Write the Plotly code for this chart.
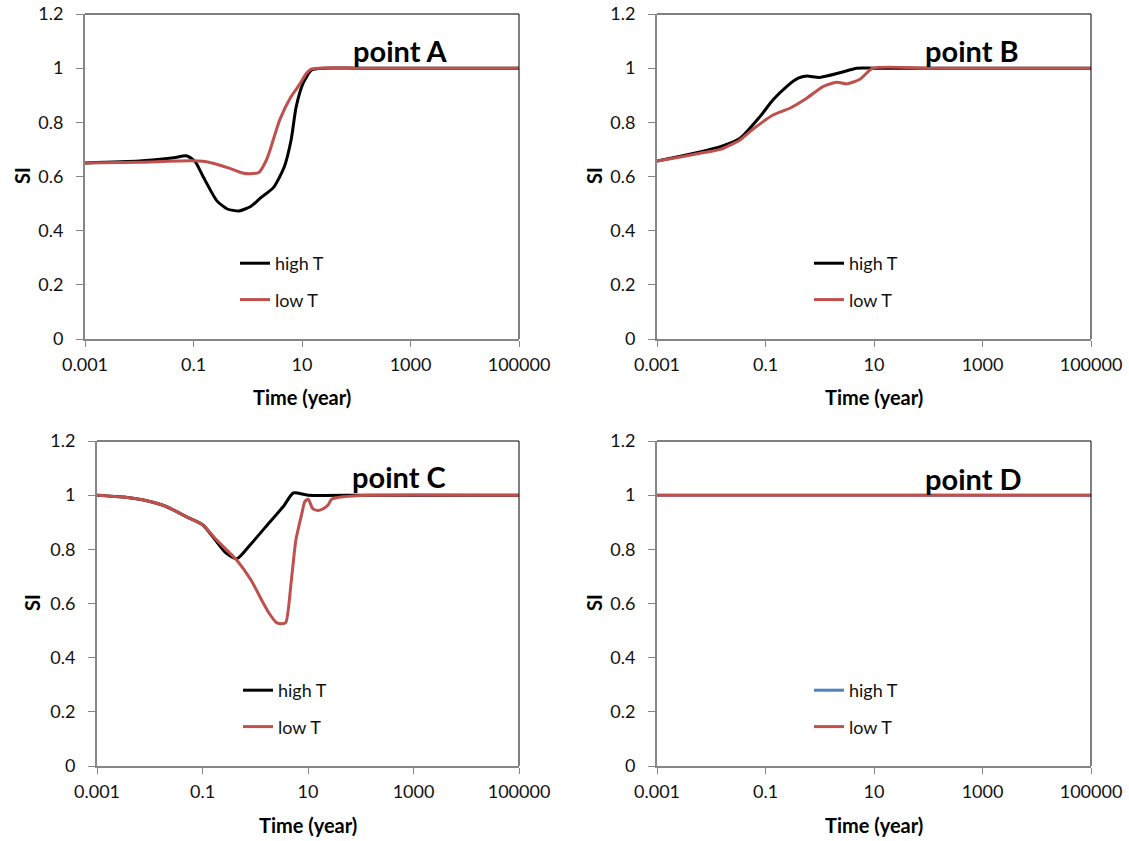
import plotly.graph_objects as go

W, H = 1129, 841
FONT = "Lato"
BLACK = "#000000"
RED = "#C0504D"
BLUE = "#4F81BD"

# ---------------- data (time in years, SI) ----------------
tick_vals = [0.001, 0.1, 10, 1000, 100000]
tick_text = ["0.001", "0.1", "10", "1000", "100000"]
series_names = ["high T", "low T"]
panel_titles = ["point A", "point B", "point C", "point D"]

a_high_t = [0.001, 0.01, 0.04, 0.076, 0.107, 0.15, 0.27, 0.42, 0.69, 1.15, 1.7, 3.0, 4.7, 6.3, 7.8, 10.5, 15, 25, 100, 1000, 100000]
a_high = [0.65, 0.657, 0.668, 0.676, 0.655, 0.60, 0.51, 0.48, 0.473, 0.49, 0.52, 0.56, 0.635, 0.735, 0.857, 0.945, 0.993, 1.0, 1.0, 1.0, 1.0]
a_low_t = [0.001, 0.01, 0.1, 0.2, 0.47, 0.8, 1.1, 1.6, 2.2, 2.6, 3.9, 6.3, 9.0, 12.0, 15.0, 20.0, 100, 1000, 100000]
a_low = [0.65, 0.653, 0.658, 0.652, 0.63, 0.613, 0.61, 0.615, 0.66, 0.70, 0.81, 0.895, 0.94, 0.98, 0.997, 1.0, 1.0, 1.0, 1.0]

b_high_t = [0.001, 0.0027, 0.0059, 0.0148, 0.034, 0.079, 0.138, 0.245, 0.40, 0.575, 1.0, 2.34, 4.8, 10, 100, 1000, 100000]
b_high = [0.657, 0.675, 0.69, 0.71, 0.741, 0.821, 0.883, 0.932, 0.963, 0.971, 0.966, 0.983, 1.0, 1.0, 1.0, 1.0, 1.0]
b_low_t = [0.001, 0.0027, 0.0059, 0.0148, 0.034, 0.051, 0.138, 0.28, 0.575, 1.15, 2.04, 3.16, 5.5, 9.5, 100, 1000, 100000]
b_low = [0.657, 0.672, 0.685, 0.70, 0.735, 0.765, 0.827, 0.852, 0.889, 0.932, 0.948, 0.942, 0.959, 1.0, 1.0, 1.0, 1.0]

c_high_t = [0.001, 0.0032, 0.0076, 0.0195, 0.05, 0.102, 0.174, 0.28, 0.447, 0.83, 1.82, 3.47, 5.25, 10, 100, 1000, 100000]
c_high = [1.0, 0.993, 0.982, 0.96, 0.92, 0.89, 0.835, 0.786, 0.765, 0.82, 0.897, 0.96, 1.008, 1.0, 1.0, 1.0, 1.0]
c_low_t = [0.001, 0.0032, 0.0076, 0.0195, 0.05, 0.102, 0.174, 0.447, 0.83, 1.32, 1.82, 2.51, 3.16, 3.8, 4.8, 5.9, 7.6, 8.7, 10.1, 12.3, 15.5, 19, 24, 28, 46, 150, 100000]
c_low = [1.0, 0.993, 0.982, 0.96, 0.92, 0.89, 0.84, 0.76, 0.687, 0.613, 0.565, 0.53, 0.525, 0.53, 0.68, 0.835, 0.93, 0.976, 0.985, 0.95, 0.943, 0.949, 0.964, 0.985, 0.994, 1.0, 1.0]

d_high_t = [0.001, 100000]
d_high = [1.0, 1.0]
d_low_t = [0.001, 100000]
d_low = [1.0, 1.0]

panels = [
    (a_high_t, a_high, a_low_t, a_low, BLACK),
    (b_high_t, b_high, b_low_t, b_low, BLACK),
    (c_high_t, c_high, c_low_t, c_low, BLACK),
    (d_high_t, d_high, d_low_t, d_low, BLUE),
]

# ---------------- layout geometry (window pixels) ----------------
# plot area: left, right, top, bottom
boxes = [(85, 519, 14, 339), (657, 1091, 14, 339), (97, 519, 441, 766), (657, 1091, 441, 766)]
legend_pos = [(235, 245), (809, 245), (238, 672), (809, 672)]
title_pos = [(400, 51), (972, 51), (399, 477), (973, 478)]
xlab_pos = [(302, 397), (874, 397), (308, 825), (874, 825)]
ylab_pos = [(22, 176), (594, 176), (32, 603), (594, 603)]


def px(x):
    return x / W


def py(y):
    return 1 - y / H


fig = go.Figure()
layout = dict(
    width=W, height=H,
    margin=dict(l=0, r=0, t=0, b=0, autoexpand=False),
    paper_bgcolor="white", plot_bgcolor="white",
    font=dict(family=FONT, size=18, color="#000000"),
    showlegend=True,
)
annotations = []
shapes = []

for i, (ht, hv, lt, lv, hcol) in enumerate(panels):
    n = "" if i == 0 else str(i + 1)
    xa, ya = "x" + n, "y" + n
    leg = "legend" + n
    fig.add_trace(go.Scatter(x=ht, y=hv, mode="lines", name=series_names[0],
                             line=dict(color=hcol, width=3, shape="spline", smoothing=0.6),
                             xaxis=xa, yaxis=ya, legend=leg, legendgroup="h" + n))
    fig.add_trace(go.Scatter(x=lt, y=lv, mode="lines", name=series_names[1],
                             line=dict(color=RED, width=3, shape="spline", smoothing=0.6),
                             xaxis=xa, yaxis=ya, legend=leg, legendgroup="l" + n))
    l, r, t, b = boxes[i]
    layout["xaxis" + n] = dict(
        type="log", range=[-3, 5], domain=[px(l), px(r)], anchor=ya, automargin=False,
        tickvals=tick_vals, ticktext=tick_text, ticks="outside", ticklen=6,
        tickcolor="#868686", showline=True, linecolor="#868686", linewidth=2,
        showgrid=False, zeroline=False, ticklabelstandoff=2, ticklabeloverflow="allow",
        tickfont=dict(family=FONT, size=18, color="#111111"),
    )
    layout["yaxis" + n] = dict(
        range=[0, 1.2], domain=[py(b), py(t)], anchor=xa, automargin=False,
        tickvals=[0, 0.2, 0.4, 0.6, 0.8, 1.0, 1.2],
        ticktext=["0", "0.2", "0.4", "0.6", "0.8", "1", "1.2"],
        ticks="outside", ticklen=7, tickcolor="#868686",
        showline=True, linecolor="#868686", linewidth=2,
        showgrid=False, zeroline=False, ticklabelstandoff=9, ticklabeloverflow="allow",
        tickfont=dict(family=FONT, size=18, color="#111111"),
    )
    # top and right frame lines
    shapes.append(dict(type="line", xref="paper", yref="paper", x0=px(l), x1=px(r), y0=py(t), y1=py(t),
                       line=dict(color="#000000", width=1)))
    shapes.append(dict(type="line", xref="paper", yref="paper", x0=px(r), x1=px(r), y0=py(t), y1=py(b),
                       line=dict(color="#000000", width=1)))
    lx, ly = legend_pos[i]
    layout[leg] = dict(x=px(lx), y=py(ly), xanchor="left", yanchor="top",
                       bgcolor="rgba(0,0,0,0)", borderwidth=0, tracegroupgap=10,
                       font=dict(family=FONT, size=18, color="#111111"))
    tx, ty = title_pos[i]
    annotations.append(dict(text="<b>" + panel_titles[i] + "</b>", x=px(tx), y=py(ty), xref="paper", yref="paper",
                            showarrow=False, xanchor="center", yanchor="middle",
                            font=dict(family=FONT, size=29, color="#000000")))
    xx, xy = xlab_pos[i]
    annotations.append(dict(text="<b>Time (year)</b>", x=px(xx), y=py(xy), xref="paper", yref="paper",
                            showarrow=False, xanchor="center", yanchor="middle",
                            font=dict(family=FONT, size=20, color="#000000")))
    yx, yy = ylab_pos[i]
    annotations.append(dict(text="<b>SI</b>", x=px(yx), y=py(yy), xref="paper", yref="paper",
                            showarrow=False, xanchor="center", yanchor="middle", textangle=-90,
                            font=dict(family=FONT, size=20, color="#000000")))

layout["annotations"] = annotations
layout["shapes"] = shapes
fig.update_layout(**layout)
fig.write_html(
    "out.html",
    config={"displayModeBar": False},
    post_script="document.body.style.margin='0';document.body.style.overflow='hidden';",
)
